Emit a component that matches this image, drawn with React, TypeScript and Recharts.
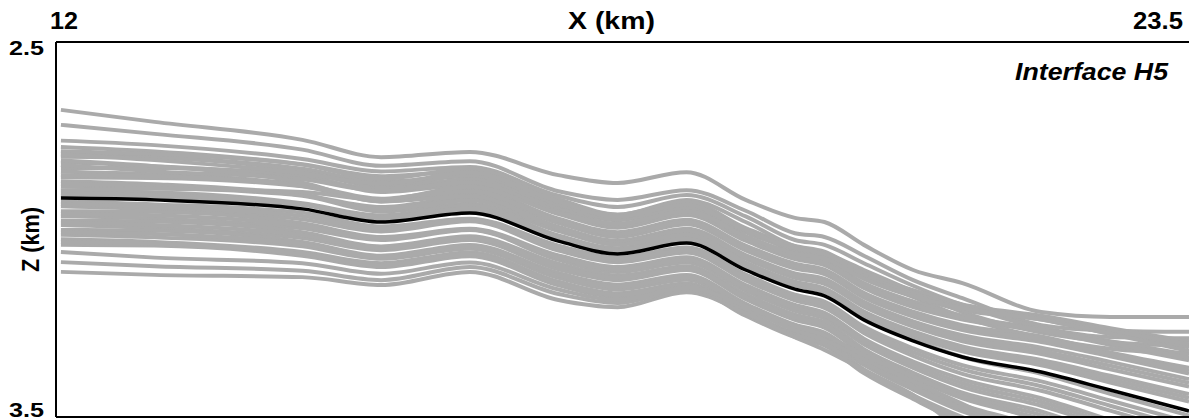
import { LineChart, Line, XAxis, YAxis, ReferenceLine } from "recharts";

// horizontal positions (km) where the interfaces were sampled
const xKm = [12.05, 13, 14.5, 15.3, 16.2, 17.1, 17.7, 18.4, 19.0, 19.5, 19.8, 20.2, 20.7, 21.2, 22.0, 22.7, 23.5];

// best (black) interface depth, km
const bestH5 = [2.916, 2.921, 2.945, 2.980, 2.956, 3.031, 3.065, 3.036, 3.108, 3.159, 3.177, 3.241, 3.297, 3.340, 3.380, 3.428, 3.484];

// gray realizations of interface H5, km
const u1 = [2.681, 2.713, 2.761, 2.807, 2.793, 2.855, 2.876, 2.847, 2.921, 2.969, 2.980, 3.041, 3.108, 3.143, 3.220, 3.233, 3.233];
const u2 = [2.721, 2.745, 2.787, 2.830, 2.818, 2.898, 2.921, 2.895, 2.950, 3.010, 3.020, 3.070, 3.135, 3.183, 3.255, 3.270, 3.273];
const u3 = [2.763, 2.775, 2.812, 2.845, 2.833, 2.910, 2.940, 2.908, 2.965, 3.028, 3.041, 3.090, 3.150, 3.201, 3.262, 3.287, 3.290];
const u4 = [2.780, 2.792, 2.826, 2.858, 2.845, 2.925, 2.961, 2.921, 2.980, 3.045, 3.063, 3.108, 3.165, 3.220, 3.275, 3.300, 3.310];
const u5 = [2.795, 2.805, 2.838, 2.872, 2.858, 2.940, 2.975, 2.943, 2.998, 3.060, 3.081, 3.125, 3.180, 3.233, 3.288, 3.318, 3.330];
const d1 = [2.791, 2.799, 2.827, 2.865, 2.838, 2.919, 2.960, 2.926, 2.996, 3.044, 3.059, 3.116, 3.162, 3.200, 3.230, 3.263, 3.299];
const d2 = [2.806, 2.809, 2.845, 2.885, 2.856, 2.933, 2.973, 2.941, 3.008, 3.054, 3.071, 3.131, 3.179, 3.215, 3.240, 3.278, 3.314];
const d3 = [2.821, 2.831, 2.860, 2.892, 2.866, 2.946, 2.985, 2.951, 3.018, 3.067, 3.082, 3.143, 3.192, 3.230, 3.265, 3.298, 3.334];
const d4 = [2.836, 2.836, 2.855, 2.900, 2.881, 2.959, 2.995, 2.961, 3.030, 3.079, 3.095, 3.156, 3.207, 3.240, 3.270, 3.308, 3.349];
const d5 = [2.846, 2.853, 2.880, 2.918, 2.891, 2.971, 3.007, 2.974, 3.043, 3.091, 3.107, 3.169, 3.219, 3.255, 3.285, 3.328, 3.369];
const d6 = [2.861, 2.863, 2.885, 2.925, 2.906, 2.983, 3.020, 2.986, 3.056, 3.104, 3.119, 3.181, 3.232, 3.268, 3.300, 3.338, 3.384];
const d7 = [2.871, 2.879, 2.907, 2.940, 2.914, 2.993, 3.030, 2.998, 3.068, 3.117, 3.132, 3.193, 3.245, 3.282, 3.315, 3.353, 3.399];
const d8 = [2.886, 2.889, 2.910, 2.952, 2.931, 3.004, 3.040, 3.008, 3.078, 3.129, 3.145, 3.206, 3.259, 3.298, 3.332, 3.373, 3.419];
const d9 = [2.898, 2.901, 2.930, 2.962, 2.936, 3.016, 3.050, 3.018, 3.090, 3.139, 3.157, 3.219, 3.272, 3.312, 3.348, 3.390, 3.439];
const d10 = [2.908, 2.915, 2.935, 2.972, 2.951, 3.025, 3.059, 3.028, 3.100, 3.149, 3.167, 3.229, 3.285, 3.325, 3.362, 3.408, 3.459];
const m1 = [2.800, 2.815, 2.850, 2.878, 2.848, 2.926, 2.966, 2.934, 3.002, 3.050, 3.065, 3.124, 3.170, 3.208, 3.236, 3.270, 3.306];
const m2 = [2.828, 2.845, 2.866, 2.896, 2.874, 2.952, 2.990, 2.956, 3.024, 3.073, 3.089, 3.150, 3.200, 3.235, 3.268, 3.303, 3.342];
const m3 = [2.855, 2.858, 2.884, 2.921, 2.898, 2.977, 3.013, 2.980, 3.050, 3.098, 3.113, 3.175, 3.226, 3.262, 3.292, 3.333, 3.376];
const m4 = [2.878, 2.884, 2.908, 2.946, 2.922, 2.998, 3.035, 3.003, 3.073, 3.123, 3.139, 3.200, 3.252, 3.290, 3.324, 3.363, 3.409];
const m5 = [2.903, 2.908, 2.932, 2.967, 2.944, 3.020, 3.055, 3.023, 3.095, 3.144, 3.162, 3.224, 3.278, 3.318, 3.355, 3.399, 3.449];
const x1 = [2.816, 2.831, 2.875, 2.925, 2.911, 2.996, 3.040, 3.014, 3.088, 3.141, 3.162, 3.231, 3.292, 3.340, 3.385, 3.438, 3.496];
const x2 = [2.896, 2.891, 2.900, 2.920, 2.886, 2.956, 2.985, 2.951, 3.018, 3.064, 3.077, 3.131, 3.177, 3.210, 3.240, 3.278, 3.324];
const e1 = [2.926, 2.933, 2.955, 2.992, 2.971, 3.043, 3.075, 3.048, 3.120, 3.174, 3.192, 3.259, 3.317, 3.362, 3.405, 3.456, 3.514];
const e2 = [2.938, 2.946, 2.973, 3.005, 2.978, 3.056, 3.087, 3.061, 3.136, 3.189, 3.209, 3.276, 3.337, 3.385, 3.430, 3.483, 3.544];
const e3 = [2.951, 2.953, 2.983, 3.020, 2.998, 3.069, 3.100, 3.074, 3.148, 3.201, 3.222, 3.291, 3.352, 3.400, 3.450, 3.508, 3.574];
const e4 = [2.964, 2.971, 2.997, 3.028, 3.001, 3.081, 3.113, 3.088, 3.163, 3.217, 3.237, 3.306, 3.369, 3.420, 3.470, 3.528, 3.594];
const e5 = [2.976, 2.979, 3.007, 3.045, 3.018, 3.091, 3.123, 3.098, 3.173, 3.227, 3.247, 3.319, 3.382, 3.435, 3.485, 3.548, 3.619];
const e6 = [2.988, 2.996, 3.023, 3.055, 3.028, 3.106, 3.135, 3.108, 3.186, 3.241, 3.262, 3.333, 3.397, 3.450, 3.505, 3.568, 3.639];
const e7 = [3.001, 3.003, 3.033, 3.070, 3.041, 3.116, 3.147, 3.121, 3.198, 3.254, 3.275, 3.346, 3.412, 3.468, 3.525, 3.588, 3.664];
const e8 = [3.014, 3.021, 3.045, 3.078, 3.051, 3.129, 3.160, 3.134, 3.210, 3.267, 3.289, 3.361, 3.427, 3.485, 3.545, 3.613, 3.689];
const e9 = [3.026, 3.033, 3.060, 3.090, 3.061, 3.139, 3.170, 3.144, 3.220, 3.277, 3.299, 3.373, 3.442, 3.500, 3.565, 3.638, 3.719];
const e10 = [3.041, 3.043, 3.070, 3.100, 3.071, 3.149, 3.180, 3.154, 3.230, 3.287, 3.309, 3.383, 3.452, 3.515, 3.580, 3.658, 3.744];
const m6 = [2.932, 2.940, 2.964, 2.998, 2.975, 3.050, 3.081, 3.055, 3.128, 3.182, 3.200, 3.268, 3.327, 3.373, 3.418, 3.470, 3.529];
const m7 = [2.958, 2.962, 2.990, 3.024, 3.000, 3.075, 3.107, 3.081, 3.156, 3.209, 3.230, 3.298, 3.360, 3.410, 3.460, 3.518, 3.584];
const m8 = [2.982, 2.988, 3.015, 3.050, 3.023, 3.098, 3.129, 3.103, 3.180, 3.234, 3.255, 3.326, 3.390, 3.442, 3.495, 3.558, 3.629];
const m9 = [3.008, 3.012, 3.039, 3.074, 3.046, 3.122, 3.153, 3.127, 3.204, 3.260, 3.282, 3.353, 3.420, 3.476, 3.535, 3.600, 3.676];
const m10 = [3.034, 3.038, 3.065, 3.095, 3.066, 3.144, 3.175, 3.149, 3.225, 3.282, 3.304, 3.378, 3.447, 3.508, 3.572, 3.648, 3.732];
const l1 = [3.113, 3.121, 3.127, 3.148, 3.113, 3.188, 3.207, 3.167, 3.223, 3.287, 3.321, 3.375, 3.441, 3.535, 3.641, 3.720, 3.800];
const l2 = [3.087, 3.098, 3.110, 3.135, 3.100, 3.172, 3.196, 3.160, 3.212, 3.268, 3.295, 3.345, 3.405, 3.465, 3.560, 3.640, 3.720];
const l3 = [3.060, 3.075, 3.090, 3.118, 3.088, 3.160, 3.188, 3.155, 3.205, 3.258, 3.282, 3.335, 3.392, 3.445, 3.510, 3.580, 3.650];

const realizations = [
  u1, u2, u3, u4, u5, d1, d2, d3, d4, d5, d6, d7, d8, d9, d10,
  m1, m2, m3, m4, m5, x1, x2, e1, e2, e3, e4, e5, e6, e7, e8, e9, e10,
  m6, m7, m8, m9, m10, l1, l2, l3,
];

const xTicks = [12, 23.5];
const zTicks = [2.5, 3.5];

const font = '"Liberation Sans", Arial, Helvetica, sans-serif';

const data = xKm.map((x, i) => {
  const row: Record<string, number> = { x, best: bestH5[i] };
  realizations.forEach((r, k) => {
    row[`r${k}`] = r[i];
  });
  return row;
});

const XTick = (props: any) => {
  const { x, payload } = props;
  const first = payload.value === xTicks[0];
  return (
    <text
      x={first ? x - 6 : x - 56}
      y={29}
      textLength={first ? 28 : 50}
      lengthAdjust="spacingAndGlyphs"
      fontFamily={font}
      fontWeight="bold"
      fontSize={23}
      fill="#000"
    >
      {payload.value}
    </text>
  );
};

const ZTick = (props: any) => {
  const { y, payload } = props;
  const first = payload.value === zTicks[0];
  return (
    <text
      x={9}
      y={first ? y + 13 : y}
      textLength={35}
      lengthAdjust="spacingAndGlyphs"
      fontFamily={font}
      fontWeight="bold"
      fontSize={20}
      fill="#000"
    >
      {payload.value}
    </text>
  );
};

export default function App() {
  return (
    <div style={{ position: "absolute", left: 0, top: 0, width: 1189, height: 420, background: "#fff" }}>
      <LineChart
        width={1189}
        height={420}
        data={data}
        margin={{ top: 0, right: 0, bottom: 3, left: 0 }}
      >
        <XAxis
          dataKey="x"
          type="number"
          orientation="top"
          domain={[12, 23.5]}
          ticks={xTicks}
          interval={0}
          height={42}
          tickLine={false}
          axisLine={{ stroke: "#000", strokeWidth: 2 }}
          tick={XTick}
        />
        <YAxis
          type="number"
          domain={[2.5, 3.5]}
          reversed
          allowDataOverflow
          ticks={zTicks}
          interval={0}
          width={56}
          tickLine={false}
          axisLine={{ stroke: "#000", strokeWidth: 2 }}
          tick={ZTick}
        />
        {realizations.map((_, k) => (
          <Line
            key={k}
            type="monotone"
            dataKey={`r${k}`}
            stroke="#aaaaaa"
            strokeWidth={4}
            dot={false}
            activeDot={false}
            isAnimationActive={false}
          />
        ))}
        <Line
          type="monotone"
          dataKey="best"
          stroke="#000"
          strokeWidth={3.5}
          dot={false}
          activeDot={false}
          isAnimationActive={false}
        />
        <ReferenceLine y={3.5} stroke="#000" strokeWidth={2} />
      </LineChart>
      <svg
        width={1189}
        height={420}
        style={{ position: "absolute", left: 0, top: 0, pointerEvents: "none" }}
      >
        <text
          x={568}
          y={29}
          textLength={87}
          lengthAdjust="spacingAndGlyphs"
          fontFamily={font}
          fontWeight="bold"
          fontSize={23}
        >
          X (km)
        </text>
        <text
          x={39}
          y={272}
          textLength={65}
          lengthAdjust="spacingAndGlyphs"
          transform="rotate(-90 39 272)"
          fontFamily={font}
          fontWeight="bold"
          fontSize={23}
        >
          Z (km)
        </text>
        <text
          x={1015}
          y={80}
          textLength={153}
          lengthAdjust="spacingAndGlyphs"
          fontFamily={font}
          fontWeight="bold"
          fontStyle="italic"
          fontSize={23}
        >
          Interface H5
        </text>
      </svg>
    </div>
  );
}
